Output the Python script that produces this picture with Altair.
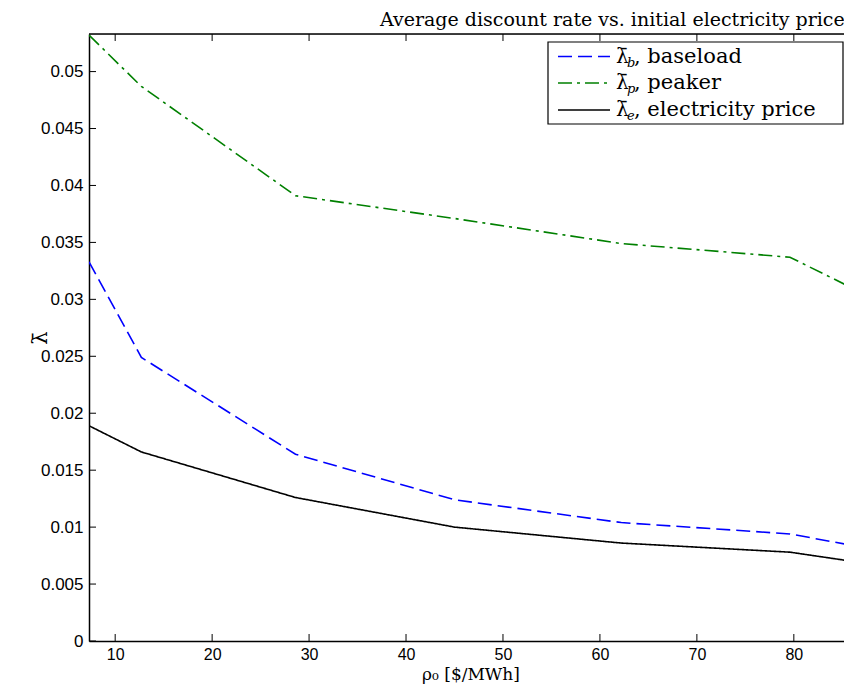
import altair as alt
import pandas as pd

# ---- data ----
rho0 = [7.3, 12.7, 28.6, 45.0, 62.2, 79.6, 86.0]
baseload = [0.0333, 0.0249, 0.0164, 0.0124, 0.0104, 0.0094, 0.0084]
peaker = [0.0532, 0.0487, 0.0391, 0.0371, 0.0349, 0.0337, 0.0310]
electricity = [0.0189, 0.0166, 0.0126, 0.0100, 0.0086, 0.0078, 0.0070]

series_names = ["baseload", "peaker", "electricity price"]
series_subs = ["b", "p", "e"]
series_colors = ["#0000ff", "#008000", "#000000"]
series_dash = [[14, 6], [14, 5, 3, 5], [1, 0]]

x_ticks = [10, 20, 30, 40, 50, 60, 70, 80]
y_ticks = [0, 0.005, 0.01, 0.015, 0.02, 0.025, 0.03, 0.035, 0.04, 0.045, 0.05]

title_text = "Average discount rate vs. initial electricity price"
x_title = "ρ₀ [$/MWh]"
y_title = "λ̄"

W, H = 763, 607
SERIF = "DejaVu Serif"
SANS = "Liberation Sans"

rows = []
for name, vals in zip(series_names, [baseload, peaker, electricity]):
    for x, y in zip(rho0, vals):
        rows.append({"rho0": x, "lam": y, "series": name})
df = pd.DataFrame(rows)

xs = alt.Scale(domain=[7.3, 86.0], nice=False, zero=False)
ys = alt.Scale(domain=[0, 0.0533], nice=False, zero=False)

x_axis = alt.Axis(values=x_ticks, tickSize=0, labelPadding=5, labelFont=SANS,
                  labelFontSize=16, labelColor="#000", domainColor="#000",
                  domainWidth=1.5, grid=False, title=x_title, titleFont=SERIF,
                  titleFontSize=17, titleFontWeight="normal", titlePadding=4,
                  titleColor="#000")
y_axis = alt.Axis(values=y_ticks, tickSize=0, labelPadding=6, labelFont=SANS,
                  labelFontSize=17, labelColor="#000", format="~g",
                  domainColor="#000", domainWidth=1.5, grid=False,
                  title=y_title, titleFont=SERIF, titleFontSize=21,
                  titleFontWeight="normal", titleX=-49, titleY=H / 2,
                  titleAlign="center", titleBaseline="middle", titleColor="#000")

lines = alt.Chart(df).mark_line(strokeWidth=1.6, clip=True).encode(
    x=alt.X("rho0:Q", scale=xs, axis=x_axis),
    y=alt.Y("lam:Q", scale=ys, axis=y_axis),
    color=alt.Color("series:N", scale=alt.Scale(domain=series_names, range=series_colors), legend=None),
    strokeDash=alt.StrokeDash("series:N", scale=alt.Scale(domain=series_names, range=series_dash), legend=None),
)

xt = pd.DataFrame({"v": x_ticks})
yt = pd.DataFrame({"v": y_ticks})
tick_bottom = alt.Chart(xt).mark_rule(color="#000", strokeWidth=1).encode(
    x=alt.X("v:Q", scale=xs), y=alt.value(H), y2=alt.value(H - 7))
tick_top = alt.Chart(xt).mark_rule(color="#000", strokeWidth=1).encode(
    x=alt.X("v:Q", scale=xs), y=alt.value(0), y2=alt.value(7))
tick_left = alt.Chart(yt).mark_rule(color="#000", strokeWidth=1).encode(
    y=alt.Y("v:Q", scale=ys), x=alt.value(0), x2=alt.value(7))
one = pd.DataFrame({"a": [0]})
top_border = alt.Chart(one).mark_rule(color="#000", strokeWidth=1.5).encode(
    x=alt.value(0), x2=alt.value(W), y=alt.value(0))

# ---- legend ----
LX0, LX1, LY0, LY1 = 459, 754, 8, 90
row_y = [22.5, 49, 76]
legend_layers = [
    alt.Chart(one).mark_rect(fill="white", stroke="#000", strokeWidth=1.2).encode(
        x=alt.value(LX0), x2=alt.value(LX1), y=alt.value(LY0), y2=alt.value(LY1))
]
for i, name in enumerate(series_names):
    yy = row_y[i]
    legend_layers.append(
        alt.Chart(one).mark_rule(color=series_colors[i], strokeWidth=1.6,
                                 strokeDash=series_dash[i]).encode(
            x=alt.value(469), x2=alt.value(521), y=alt.value(yy)))
    legend_layers.append(
        alt.Chart(one).mark_text(text=y_title, font=SERIF, fontSize=20, align="left",
                                 baseline="middle", color="#000").encode(
            x=alt.value(527), y=alt.value(yy)))
    legend_layers.append(
        alt.Chart(one).mark_text(text=series_subs[i], font=SERIF, fontSize=13,
                                 fontStyle="italic", align="left",
                                 baseline="middle", color="#000").encode(
            x=alt.value(538), y=alt.value(yy + 6)))
    legend_layers.append(
        alt.Chart(one).mark_text(text=", " + name, font=SERIF, fontSize=21, align="left",
                                 baseline="middle", color="#000").encode(
            x=alt.value(545), y=alt.value(yy)))

chart = alt.layer(
    lines, tick_bottom, tick_top, tick_left, top_border, *legend_layers
).properties(
    width=W, height=H,
    autosize=alt.AutoSizeParams(type="none"),
    padding={"left": 81, "top": 26, "right": -8, "bottom": 47},
    title=alt.TitleParams(title_text, anchor="end", font=SERIF, fontSize=19,
                          fontWeight="normal", color="#000", offset=3, dx=-8),
).configure_view(stroke=None).configure(background="white")

chart.save("out.html", embed_options={"renderer": "svg", "actions": False})
